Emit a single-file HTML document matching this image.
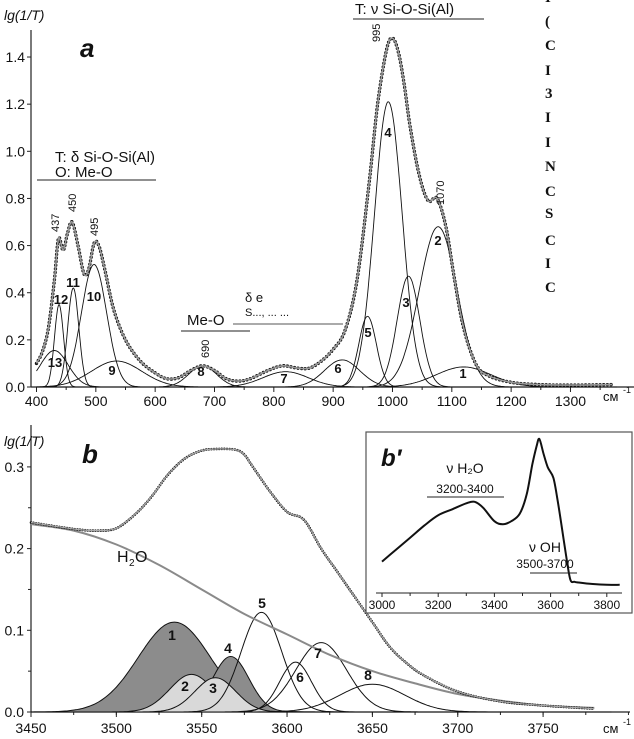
<!DOCTYPE html>
<html><head><meta charset="utf-8"><style>
html,body{margin:0;padding:0;background:#fff;}
svg{display:block;font-family:"Liberation Sans",Arial,sans-serif;}
text{fill:#111}
</style></head><body>
<svg id="fig" width="634" height="739" viewBox="0 0 634 739">
<rect width="634" height="739" fill="#fff"/>
<g id="pa"></g>
<g id="pb"></g>
<g id="pi"></g>
</svg>
<script>
// ---------- Panel a data ----------
const aTicksX = [400,500,600,700,800,900,1000,1100,1200,1300];
const aTicksY = [0.0,0.2,0.4,0.6,0.8,1.0,1.2,1.4];
const aCompCenters = [1120,1077,1027,993,958,915,820,680,535,497,462,438,430];
const aCompAmps    = [0.085,0.68,0.47,1.21,0.30,0.115,0.065,0.09,0.11,0.52,0.42,0.35,0.155];
const aCompWidths  = [110,75,45,55,35,70,90,55,100,50,22,18,55];
const aObsX = [400,410,420,430,437,445,452,460,470,480,488,497,505,515,530,550,575,600,620,640,660,680,700,720,740,760,790,815,840,860,880,900,920,940,960,975,990,1000,1010,1020,1030,1045,1060,1075,1090,1105,1120,1140,1160,1200,1250,1300,1370];
const aObsY = [0.10,0.15,0.25,0.45,0.63,0.58,0.65,0.70,0.60,0.48,0.50,0.61,0.60,0.50,0.33,0.20,0.11,0.06,0.035,0.04,0.07,0.09,0.07,0.035,0.025,0.035,0.07,0.09,0.08,0.08,0.11,0.16,0.24,0.45,0.85,1.2,1.43,1.48,1.42,1.28,1.1,0.9,0.79,0.80,0.68,0.45,0.25,0.1,0.05,0.02,0.01,0.008,0.01];
// ---------- Panel b data ----------
const bTicksX = [3450,3500,3550,3600,3650,3700,3750];
const bTicksY = [0.0,0.1,0.2,0.3];
const bCompCenters = [3534,3567,3544,3558,3585,3605,3620,3650];
const bCompAmps    = [0.11,0.068,0.046,0.042,0.122,0.061,0.085,0.034];
const bCompWidths  = [50,25,30,28,28,22,35,45];
const bCompLabels  = ['1','4','2','3','5','6','7','8'];
const bCompFills   = ['dark','dark','light','light','none','none','none','none'];
const bH2OX = [3450,3475,3500,3525,3550,3575,3600,3625,3650,3675,3700,3725,3750,3780];
const bH2OY = [0.23,0.222,0.205,0.18,0.15,0.12,0.095,0.07,0.05,0.035,0.022,0.014,0.008,0.005];
const bObsX = [3450,3475,3490,3500,3510,3520,3530,3540,3550,3560,3570,3575,3580,3590,3600,3610,3620,3630,3640,3650,3660,3670,3680,3700,3725,3750,3780];
const bObsY = [0.232,0.224,0.222,0.225,0.24,0.262,0.29,0.31,0.32,0.322,0.321,0.315,0.3,0.27,0.245,0.235,0.2,0.17,0.14,0.11,0.08,0.06,0.045,0.025,0.013,0.008,0.004];
// ---------- Inset data ----------
const iTicksX = [3000,3200,3400,3600,3800];
const iX = [3000,3050,3100,3150,3200,3250,3300,3330,3360,3400,3430,3460,3490,3515,3535,3550,3560,3575,3590,3610,3625,3640,3655,3670,3685,3700,3750,3800,3846];
const iY = [0.21,0.29,0.37,0.45,0.52,0.56,0.60,0.61,0.57,0.48,0.46,0.48,0.53,0.66,0.86,0.98,1.03,0.93,0.84,0.77,0.62,0.44,0.25,0.09,0.075,0.07,0.06,0.055,0.055];

const NS='http://www.w3.org/2000/svg';
function mk(tag, attrs, parent){const e=document.createElementNS(NS,tag);for(const k in attrs)e.setAttribute(k,attrs[k]);parent.appendChild(e);return e;}
function gauss(x,c,a,w){return a*Math.exp(-4*Math.LN2*(x-c)*(x-c)/(w*w));}
function smooth(pts){let d='M'+pts[0][0].toFixed(1)+','+pts[0][1].toFixed(1);
 for(let i=0;i<pts.length-1;i++){const p0=pts[Math.max(0,i-1)],p1=pts[i],p2=pts[i+1],p3=pts[Math.min(pts.length-1,i+2)];
 const c1=[p1[0]+(p2[0]-p0[0])/6,p1[1]+(p2[1]-p0[1])/6],c2=[p2[0]-(p3[0]-p1[0])/6,p2[1]-(p3[1]-p1[1])/6];
 d+='C'+c1[0].toFixed(1)+','+c1[1].toFixed(1)+' '+c2[0].toFixed(1)+','+c2[1].toFixed(1)+' '+p2[0].toFixed(1)+','+p2[1].toFixed(1);}return d;}
function txt(parent,x,y,s,size,extra){const t=mk('text',Object.assign({x:x,y:y,'font-size':size||13},extra||{}),parent);t.textContent=s;return t;}

// ===== Panel A =====
(function(){
const g=document.getElementById('pa');
const X=v=>36.5+(v-400)*0.5933, Y=v=>387-v*235.7;
const ax=mk('g',{},g);


mk('line',{x1:31,y1:387,x2:634,y2:387,stroke:'#222','stroke-width':1.2},ax);
mk('line',{x1:31,y1:30,x2:31,y2:387,stroke:'#222','stroke-width':1.2},ax);
aTicksX.forEach(v=>{mk('line',{x1:X(v),y1:387,x2:X(v),y2:392,stroke:'#222'},ax);
 const t=txt(ax,X(v),406,String(v),14,{'text-anchor':'middle'});
 
 });
for(let v=450;v<=1350;v+=100)mk('line',{x1:X(v),y1:387,x2:X(v),y2:390,stroke:'#222'},ax);
aTicksY.forEach(v=>{mk('line',{x1:27,y1:Y(v),x2:31,y2:Y(v),stroke:'#222'},ax);
 const t=txt(ax,25,Y(v)+5,v.toFixed(1),14,{'text-anchor':'end'});
 
 });
const ya=txt(ax,4,20,'lg(1/T)',14,{'font-style':'italic'});


const xu=txt(ax,603,401,'см',13);


txt(ax,623,393,'-1',9);
aCompCenters.forEach((c,i)=>{const pts=[];for(let x=400;x<=1380;x+=3)pts.push([X(x),Y(gauss(x,c,aCompAmps[i],aCompWidths[i]))]);
 const p=mk('path',{d:smooth(pts),fill:'none',stroke:'#111','stroke-width':0.9},g);
 
 });
const d=smooth(aObsX.map((x,i)=>[X(x),Y(aObsY[i])]));
const dots=mk('path',{d:d,fill:'none',stroke:'#111','stroke-width':3.4,'stroke-dasharray':'0 3.6','stroke-linecap':'round'},g);


const fit=mk('path',{d:d,fill:'none',stroke:'#999','stroke-width':1.6},g);


const lab=[[463,378,'1'],[438,245,'2'],[406,307,'3'],[388,137,'4'],[368,337,'5'],[338,373,'6'],[284,383,'7'],[201,376,'8'],[112,375,'9'],[94,301,'10'],[73,287,'11'],[61,304,'12'],[55,367,'13']];
lab.forEach(l=>{const t=txt(g,l[0],l[1],l[2],13,{'text-anchor':'middle','font-weight':'bold'});
 
 });
[[59,232,'437'],[76,212,'450'],[98,236,'495'],[209,358,'690'],[380,42,'995'],[444,205,'1070']].forEach(l=>{
 const t=txt(g,l[0],l[1],l[2],11,{'transform':'rotate(-90 '+l[0]+' '+l[1]+')','fill':'#333'});
 
 });
const pl=txt(g,80,57,'a',26,{'font-weight':'bold','font-style':'italic'});


const b1=txt(g,355,14,'T: ν Si-O-Si(Al)',15);


mk('line',{x1:353,y1:19,x2:484,y2:19,stroke:'#222'},g);
const b2=txt(g,55,162,'T: δ Si-O-Si(Al)',15);


txt(g,55,177,'O:    Me-O',15);
mk('line',{x1:37,y1:180,x2:156,y2:180,stroke:'#222'},g);
const b3=txt(g,187,325,'Me-O',15);


mk('line',{x1:181,y1:331,x2:250,y2:331,stroke:'#222'},g);
txt(g,245,302,'δ                e',13,{'fill':'#666'});
txt(g,245,316,'S..., ... ...',11,{'fill':'#aaa'});
mk('line',{x1:233,y1:324,x2:343,y2:324,stroke:'#555'},g);
const ch=['I','(','C','I','3','I','I','N','C','S','C','I','C'];
const cy=[2,26,50,75,98,122,147,171,196,218,245,268,292];
ch.forEach((c,i)=>{const t=txt(g,545,cy[i],c,15,{'font-family':'Liberation Serif,serif','font-weight':'bold','fill':i==4?'#aaa':'#111'});
 
 });
})();

// ===== Panel B =====
(function(){
const g=document.getElementById('pb');
const X=v=>31+(v-3450)*1.707, Y=v=>712-v*817;
const ax=mk('g',{},g);


mk('line',{x1:31,y1:712,x2:630,y2:712,stroke:'#222','stroke-width':1.2},ax);
mk('line',{x1:31,y1:425,x2:31,y2:712,stroke:'#222','stroke-width':1.2},ax);
bTicksX.forEach(v=>{mk('line',{x1:X(v),y1:712,x2:X(v),y2:717,stroke:'#222'},ax);
 const t=txt(ax,Math.max(X(v),16),733,String(v),14,{'text-anchor':'middle'});
 
 });
for(let v=3475;v<=3800;v+=25)mk('line',{x1:X(v),y1:712,x2:X(v),y2:715,stroke:'#222'},ax);
bTicksY.forEach(v=>{mk('line',{x1:27,y1:Y(v),x2:31,y2:Y(v),stroke:'#222'},ax);
 const t=txt(ax,24,Y(v)+5,v.toFixed(1),14,{'text-anchor':'end'});
 
 });
for(let v=0.05;v<0.35;v+=0.1)mk('line',{x1:28,y1:Y(v),x2:31,y2:Y(v),stroke:'#222'},ax);
const ya=txt(ax,4,446,'lg(1/T)',14,{'font-style':'italic'});


const xu=txt(ax,603,733,'см',13);


txt(ax,623,725,'-1',9);
bCompCenters.forEach((c,i)=>{const pts=[];for(let x=3450;x<=3790;x+=2)pts.push([X(x),Y(gauss(x,c,bCompAmps[i],bCompWidths[i]))]);
 const f=bCompFills[i]=='dark'?'#8c8c8c':bCompFills[i]=='light'?'#d9d9d9':'none';
 const p=mk('path',{d:smooth(pts)+(f!='none'?'Z':''),fill:f,stroke:'#111','stroke-width':1},g);
 
 });
const h=mk('path',{d:smooth(bH2OX.map((x,i)=>[X(x),Y(bH2OY[i])])),fill:'none',stroke:'#8a8a8a','stroke-width':2},g);


const d=smooth(bObsX.map((x,i)=>[X(x),Y(bObsY[i])]));
const dots=mk('path',{d:d,fill:'none',stroke:'#111','stroke-width':2.6,'stroke-dasharray':'0 2.6','stroke-linecap':'round'},g);


const fit=mk('path',{d:d,fill:'none',stroke:'#aaa','stroke-width':1.2},g);


const lab=[[172,640,'1'],[185,691,'2'],[213,693,'3'],[228,653,'4'],[262,608,'5'],[300,682,'6'],[318,658,'7'],[368,680,'8']];
lab.forEach(l=>{const t=txt(g,l[0],l[1],l[2],14,{'text-anchor':'middle','font-weight':'bold'});
 
 });
const hl=txt(g,117,562,'H',16,{'fill':'#333'});


txt(g,129,566,'2',10,{'fill':'#333'});
txt(g,135,562,'O',16,{'fill':'#333'});
const pl=txt(g,82,463,'b',26,{'font-weight':'bold','font-style':'italic'});


})();

// ===== Inset =====
(function(){
const g=document.getElementById('pi');
const X=v=>382+(v-3000)*0.281, Y=v=>593-v*149.5;
const box=mk('rect',{x:366,y:432,width:266,height:181,fill:'#fff',stroke:'#555','stroke-width':1.2},g);


mk('line',{x1:376,y1:593,x2:622,y2:593,stroke:'#222'},g);
iTicksX.forEach(v=>{mk('line',{x1:X(v),y1:593,x2:X(v),y2:597,stroke:'#222'},g);
 const t=txt(g,X(v),609,String(v),12,{'text-anchor':'middle'});
 
 });
for(let v=3100;v<=3800;v+=200)mk('line',{x1:X(v),y1:593,x2:X(v),y2:596,stroke:'#222'},g);
const p=mk('path',{d:smooth(iX.map((x,i)=>[X(x),Y(iY[i])])),fill:'none',stroke:'#111','stroke-width':2},g);


const pl=txt(g,381,466,'b′',24,{'font-weight':'bold','font-style':'italic'});


const l1=txt(g,465,473,'ν H₂O',14,{'text-anchor':'middle'});


txt(g,465,493,'3200-3400',12,{'text-anchor':'middle'});
mk('line',{x1:427,y1:497,x2:504,y2:497,stroke:'#222'},g);
const l2=txt(g,545,552,'ν OH',14,{'text-anchor':'middle'});


txt(g,545,568,'3500-3700',12,{'text-anchor':'middle'});
mk('line',{x1:530,y1:573,x2:577,y2:573,stroke:'#222'},g);
})();
</script>
</body></html>
